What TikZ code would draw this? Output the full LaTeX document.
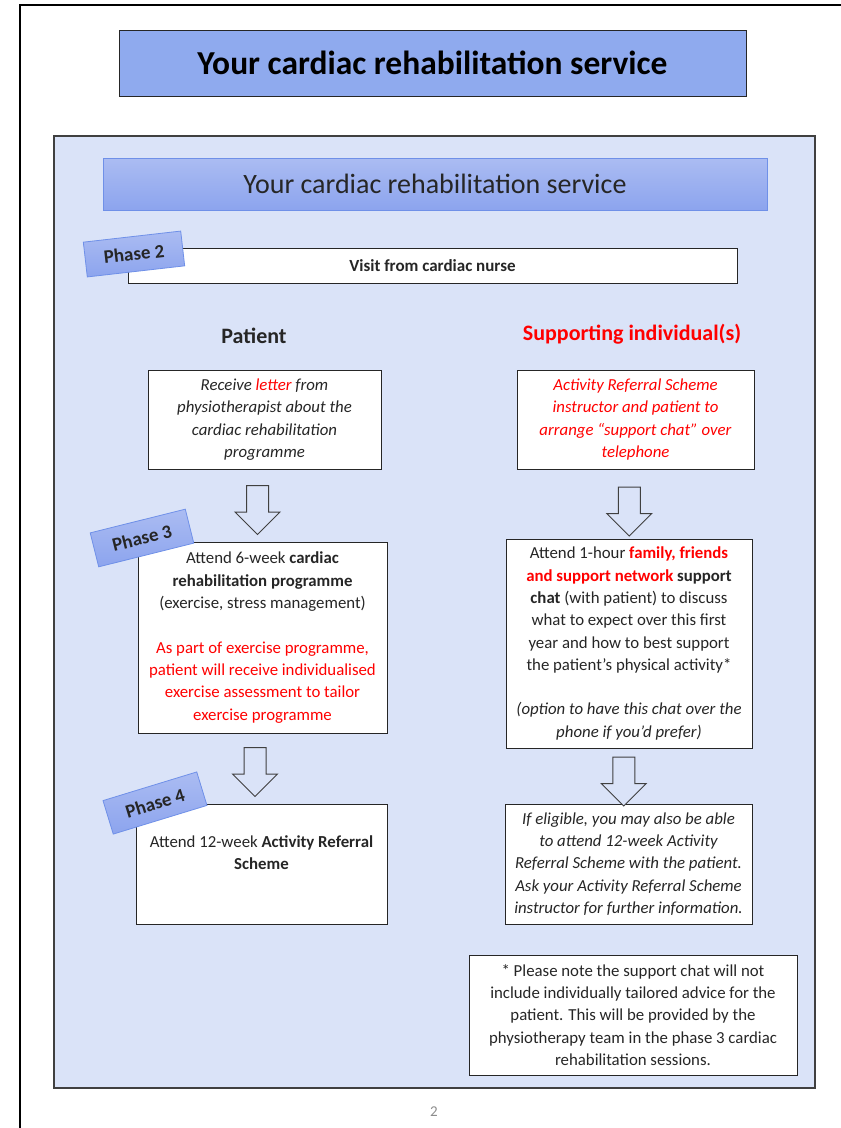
\documentclass[tikz,border=0pt]{standalone}
\usepackage{fontspec}
\setmainfont{Carlito}
\usetikzlibrary{calc,positioning,shapes.arrows}
\definecolor{Ink}{HTML}{262626}
\definecolor{Edge}{HTML}{404040}
\definecolor{Panel}{HTML}{DAE3F8}
\definecolor{TitleBlue}{HTML}{8FAAEE}
\definecolor{HeadTop}{HTML}{ABBCF2}
\definecolor{HeadBot}{HTML}{8CA4EE}
\definecolor{HeadLine}{HTML}{6F90E8}
\definecolor{Alert}{HTML}{FF0000}
\definecolor{PageNum}{HTML}{8C8C8C}
\newcommand\boxfont{\fontsize{16.8}{22.3}\selectfont}
\newcommand\hl[1]{\textcolor{Alert}{#1}}
\tikzset{
  infobox/.style={
    draw=Ink, line width=1pt, fill=white, text=Ink, align=center,
    inner sep=0pt, font=\boxfont
  },
  phasetag/.style={
    draw=HeadLine, line width=0.8pt, top color=HeadTop, bottom color=HeadBot,
    minimum width=98pt, minimum height=35pt, inner sep=0pt,
    font=\fontsize{19}{22}\selectfont\bfseries, text=Ink
  },
  downarrow/.style={
    single arrow, shape border rotate=270, draw=Edge, line width=1pt,
    fill=Panel, minimum height=49pt, minimum width=44pt, inner sep=10.5pt,
    single arrow head extend=11.5pt, single arrow head indent=0pt
  },
  colhead/.style={font=\fontsize{22}{26}\selectfont\bfseries}
}

\begin{document}
\begin{tikzpicture}[x=1pt,y=-1pt]
  \useasboundingbox (0,0) rectangle (841,1128);
  % page edge
  \draw[line width=2.5pt,line cap=rect] (20,1128) -- (20,5) -- (841,5);

  \node[draw=Ink, line width=1pt, fill=TitleBlue, minimum width=627pt,
    minimum height=66pt, font=\fontsize{33.5}{38}\selectfont\bfseries]
    (title) at (432.5,63) {Your cardiac rehabilitation service};

  % blue panel
  \node[draw=Edge, line width=1.3pt, fill=Panel, minimum width=761pt,
    minimum height=952pt] (panel) at (434.5,612) {};
  \node[draw=HeadLine, line width=1pt, top color=HeadTop, bottom color=HeadBot,
    minimum width=664pt, minimum height=52pt, text=Ink,
    font=\fontsize{28}{32}\selectfont] (head) at (435,184)
    {Your cardiac rehabilitation service};

  \node[infobox, minimum width=609pt, minimum height=35pt,
    font=\fontsize{17}{20}\selectfont\bfseries]
    (visit) at (432.5,265.5) {Visit from cardiac nurse};

  \node[colhead, text=Ink] (patient) at (254,336) {Patient};
  \node[colhead, text=Alert] (support) at (632,334) {Supporting individual(s)};

  % patient column
  \node[infobox, minimum width=233pt, minimum height=99pt, font=\boxfont\itshape]
    (letter) at (264.5,419.5)
    {Receive \hl{letter} from\\physiotherapist about the\\cardiac rehabilitation\\programme};
  \node[infobox, minimum width=249pt, minimum height=191pt]
    (rehab) at (262.5,637.5)
    {Attend 6-week \textbf{cardiac}\\\textbf{rehabilitation programme}\\(exercise, stress management)\\\mbox{}\\
     \hl{As part of exercise programme,}\\\hl{patient will receive individualised}\\
     \hl{exercise assessment to tailor}\\\hl{exercise programme}};
  \node[infobox, minimum width=251pt, minimum height=120pt]
    (scheme) at (261.5,864)
    {Attend 12-week \textbf{Activity Referral}\\\textbf{Scheme}\\\mbox{}};

  % supporting column
  \node[infobox, minimum width=237pt, minimum height=99pt, font=\boxfont\itshape, text=Alert]
    (arrange) at (635.5,419.5)
    {Activity Referral Scheme\\instructor and patient to\\arrange “support chat” over\\telephone};
  \node[infobox, minimum width=246pt, minimum height=209pt]
    (chat) at (629,643.5)
    {Attend 1-hour \hl{\textbf{family, friends}}\\\hl{\textbf{and support network}} \textbf{support}\\
     \textbf{chat} (with patient) to discuss\\what to expect over this first\\year and how to best support\\the patient’s physical activity*\\\mbox{}\\
     \textit{(option to have this chat over the}\\\textit{phone if you’d prefer)}};
  \node[infobox, minimum width=247pt, minimum height=120pt, font=\boxfont\itshape]
    (eligible) at (628.5,864)
    {If eligible, you may also be able\\to attend 12-week Activity\\Referral Scheme with the patient.\\Ask your Activity Referral Scheme\\instructor for further information.};
  \node[infobox, minimum width=328pt, minimum height=120pt]
    (note) at (633,1015)
    {* Please note the support chat will not\\include individually tailored advice for the\\patient. This will be provided by the\\physiotherapy team in the phase 3 cardiac\\rehabilitation sessions.};

  % block arrows between the boxes
  \node[downarrow] (a1) at ($(letter.south)!.5!(rehab.north)+(-6,-1)$) {};
  \node[downarrow] (a2) at ($(rehab.south)!.5!(scheme.north)+(-7,-2)$) {};
  \node[downarrow] (a3) at ($(arrange.south)!.5!(chat.north)+(-3,2)$) {};
  \node[downarrow] (a4) at ($(chat.south)!.5!(eligible.north)+(-5,0)$) {};

  % phase tags
  \node[phasetag, rotate=6.5] (ph2) at (134,254) {Phase 2};
  \node[phasetag, rotate=14] (ph3) at (142,538) {Phase 3};
  \node[phasetag, rotate=17] (ph4) at (155,803) {Phase 4};

  \node[text=PageNum, font=\fontsize{15}{17}\selectfont] (pagenum) at (434,1112) {2};
\end{tikzpicture}
\end{document}
